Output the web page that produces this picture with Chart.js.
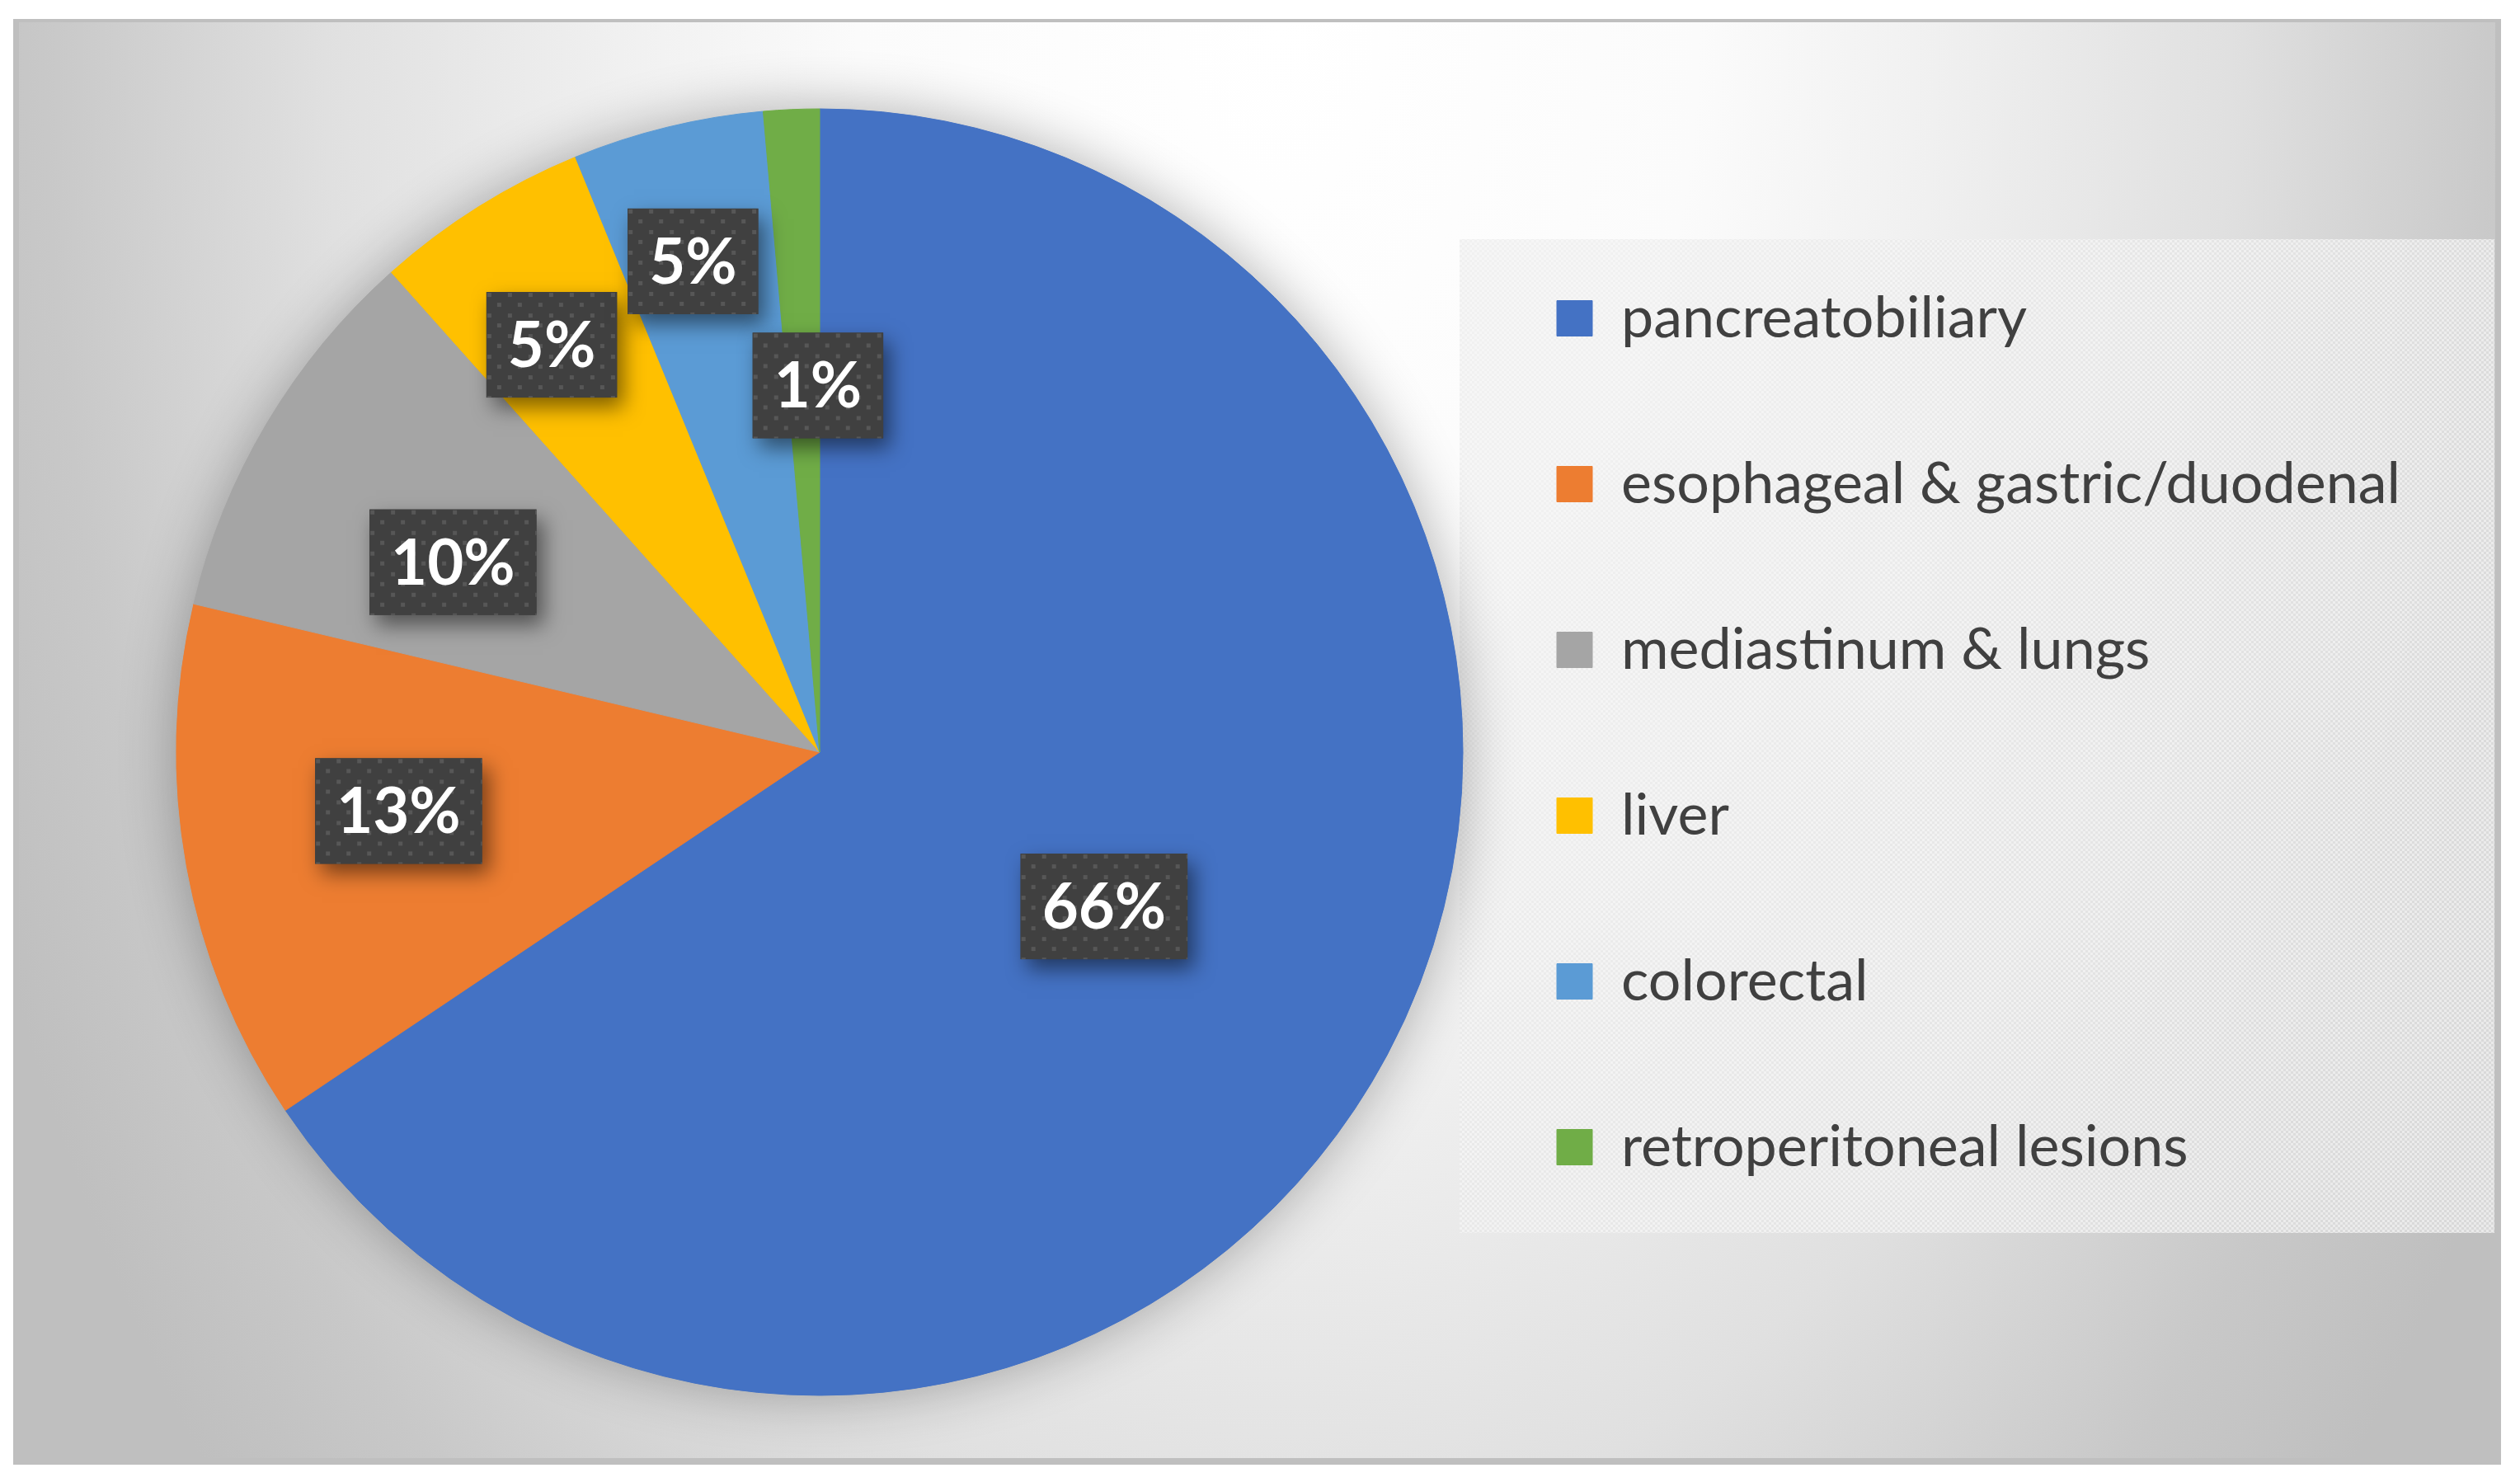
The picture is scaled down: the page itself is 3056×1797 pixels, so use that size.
<!DOCTYPE html>
<html><head><meta charset="utf-8">
<script src="https://cdn.jsdelivr.net/npm/chart.js@4.4.1/dist/chart.umd.min.js"></script>
<style>html,body{margin:0;padding:0;background:#fff;overflow:hidden}canvas{display:block}</style>
</head><body>
<canvas id="c" width="3056" height="1797"></canvas>
<script>
// ---- data ----
const categories = ['pancreatobiliary', 'esophageal & gastric/duodenal', 'mediastinum & lungs', 'liver', 'colorectal', 'retroperitoneal lesions'];
const shares = [65.6, 13.1, 9.7, 5.4, 4.8, 1.4];
const sliceColors = ['#4472C4', '#ED7D31', '#A5A5A5', '#FFC000', '#5B9BD5', '#70AD47'];
// label placement like Excel "best fit": fraction of radius and angular nudge (degrees)
const labelRadius = [0.503, 0.661, 0.642, 0.758, 0.788, 0.570];
const labelAngleShift = [0.4, 2.3, -3.4, -1.3, -0.8, 2.25];

const LEGEND_WIDTH = 1268;

function makeDotPattern(ctx) {
  const t = document.createElement('canvas');
  t.width = 25; t.height = 25;
  const c = t.getContext('2d');
  c.fillStyle = '#404040'; c.fillRect(0, 0, 25, 25);
  c.fillStyle = '#575757';
  c.fillRect(1, 1, 5, 5);
  c.fillRect(13, 13, 5, 5);
  return ctx.createPattern(t, 'repeat');
}
function makeLegendPattern(ctx) {
  const t = document.createElement('canvas');
  t.width = 6; t.height = 6;
  const c = t.getContext('2d');
  c.fillStyle = 'rgba(232,232,232,0.62)'; c.fillRect(0, 0, 6, 6);
  c.fillStyle = 'rgba(252,252,252,0.5)';
  c.fillRect(0, 0, 3, 3); c.fillRect(3, 3, 3, 3);
  return ctx.createPattern(t, 'repeat');
}

const framePlugin = {
  id: 'frame',
  beforeLayout(chart) {
    const lg = chart.legend;
    if (lg && !lg._fixedWidth) {
      const fit = lg.fit.bind(lg);
      lg.fit = function () { fit(); this.width = LEGEND_WIDTH; };
      lg._fixedWidth = true;
    }
  },
  beforeDraw(chart) {
    const ctx = chart.ctx;
    const W = chart.width, H = chart.height;
    ctx.save();
    ctx.fillStyle = '#ffffff'; ctx.fillRect(0, 0, W, H);
    ctx.fillStyle = '#bfbfbf'; ctx.fillRect(16, 23, 3017, 1753);
    ctx.save();
    ctx.beginPath(); ctx.rect(23, 27, 3003, 1741); ctx.clip();
    ctx.translate(1550, 30); ctx.scale(1, 1.6);
    const g = ctx.createRadialGradient(0, 0, 0, 0, 0, 1700);
    g.addColorStop(0, '#ffffff');
    g.addColorStop(0.3, '#fbfbfb');
    g.addColorStop(0.47, '#f0f0f0');
    g.addColorStop(0.68, '#e0e0e0');
    g.addColorStop(0.88, '#c8c8c8');
    g.addColorStop(1, '#bfbfbf');
    ctx.fillStyle = g;
    ctx.fillRect(-1700, -50, 3400, 1200);
    ctx.restore();
    const lg = chart.legend;
    if (lg && lg.legendHitBoxes && lg.legendHitBoxes.length) {
      const hb = lg.legendHitBoxes;
      const first = hb[0], last = hb[hb.length - 1];
      const top = first.top + first.height / 2 - 96;
      const bottom = last.top + last.height / 2 + 104;
      const left = lg.left + 13;
      const right = lg.right;
      ctx.fillStyle = makeLegendPattern(ctx);
      ctx.fillRect(left, top, right - left, bottom - top);
    }
    ctx.restore();
  },
  beforeDatasetsDraw(chart) {
    const meta = chart.getDatasetMeta(0);
    const a = meta.data[0];
    if (!a) return;
    const ctx = chart.ctx;
    ctx.save();
    ctx.shadowColor = 'rgba(0,0,0,0.32)';
    ctx.shadowBlur = 70;
    ctx.beginPath();
    ctx.arc(a.x, a.y, a.outerRadius - 2, 0, Math.PI * 2);
    ctx.fillStyle = sliceColors[0];
    ctx.fill();
    ctx.restore();
  },
  afterDatasetsDraw(chart) {
    const ctx = chart.ctx;
    const meta = chart.getDatasetMeta(0);
    const vals = chart.data.datasets[0].data;
    const total = vals.reduce((s, v) => s + v, 0);
    const pat = makeDotPattern(ctx);
    ctx.save();
    ctx.font = 'bold 76px Lato';
    meta.data.forEach((arc, i) => {
      const p = arc.getProps(['x', 'y', 'startAngle', 'endAngle', 'outerRadius'], true);
      const mid = (p.startAngle + p.endAngle) / 2 + labelAngleShift[i] * Math.PI / 180;
      const r = p.outerRadius * labelRadius[i];
      const cx = p.x + Math.cos(mid) * r;
      const cy = p.y + Math.sin(mid) * r;
      const txt = Math.round(vals[i] / total * 100) + '%';
      const tw = ctx.measureText(txt).width;
      const bw = tw + 52, bh = 128;
      const bx = cx - bw / 2, by = cy - bh / 2;
      ctx.save();
      ctx.shadowColor = 'rgba(0,0,0,0.5)';
      ctx.shadowBlur = 24;
      ctx.shadowOffsetX = 8;
      ctx.shadowOffsetY = 12;
      ctx.fillStyle = '#404040';
      ctx.fillRect(bx, by, bw, bh);
      ctx.restore();
      ctx.save();
      ctx.translate(bx, by);
      ctx.fillStyle = pat;
      ctx.fillRect(0, 0, bw, bh);
      ctx.restore();
      ctx.fillStyle = '#ffffff';
      ctx.textAlign = 'center';
      ctx.textBaseline = 'alphabetic';
      ctx.fillText(txt, cx, cy + 27);
    });
    ctx.restore();
  }
};

new Chart(document.getElementById('c'), {
  type: 'pie',
  data: {
    labels: categories,
    datasets: [{
      data: shares,
      backgroundColor: sliceColors,
      borderColor: sliceColors,
      borderWidth: 1
    }]
  },
  options: {
    responsive: false,
    animation: false,
    radius: 780,
    layout: { padding: { left: 231, right: 31, top: 132, bottom: 105 } },
    plugins: {
      tooltip: { enabled: false },
      legend: {
        position: 'right',
        align: 'start',
        title: { display: true, text: '', font: { size: 1, lineHeight: 1 }, padding: { top: 0, bottom: 87 } },
        labels: {
          color: '#404040',
          font: { family: 'Lato', size: 70 },
          boxWidth: 43,
          boxHeight: 43,
          padding: 131,
          textAlign: 'left'
        }
      }
    }
  },
  plugins: [framePlugin]
});
</script>
</body></html>
